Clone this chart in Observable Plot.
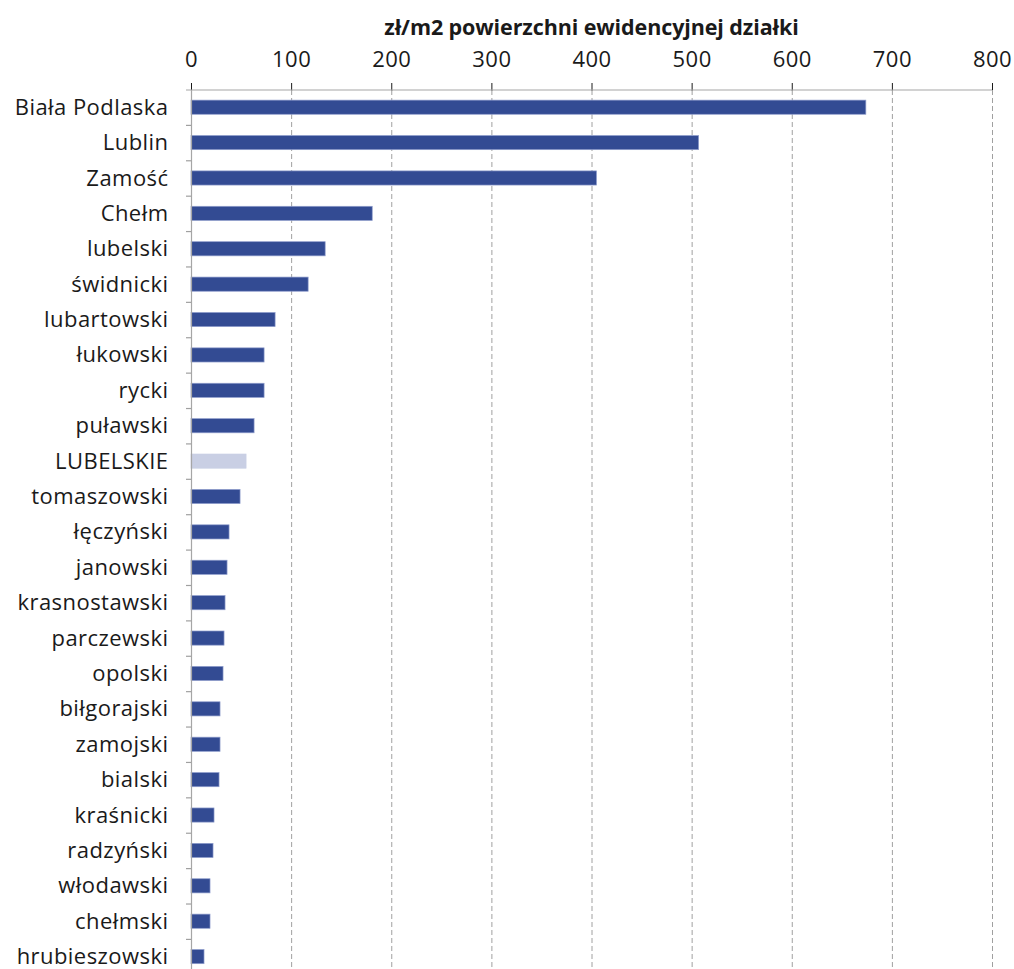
<!DOCTYPE html>
<html>
<head>
<meta charset="utf-8">
<script src="https://cdn.jsdelivr.net/npm/d3@7"></script>
<script src="https://cdn.jsdelivr.net/npm/@observablehq/plot@0.6"></script>
<style>
  body { margin: 0; background: #fff; font-family: "Open Sans", sans-serif; overflow: hidden; }
  #title { position: relative; left: 191px; width: 801px; height: 35px; line-height: 54px; text-align: center; font-weight: bold; font-size: 21.5px; color: #1a1a1a; letter-spacing: -0.1px; white-space: nowrap; }
  #chart svg { display: block; }
  #chart svg text { letter-spacing: 0.45px; }
</style>
</head>
<body>
<div id="title">zł/m2 powierzchni ewidencyjnej działki</div>
<div id="chart"></div>
<script>
const categories = ["Biała Podlaska","Lublin","Zamość","Chełm","lubelski","świdnicki","lubartowski","łukowski","rycki","puławski","LUBELSKIE","tomaszowski","łęczyński","janowski","krasnostawski","parczewski","opolski","biłgorajski","zamojski","bialski","kraśnicki","radzyński","włodawski","chełmski","hrubieszowski"];
const values = [674, 507, 405, 181, 134, 117, 84, 73, 73, 63, 55, 49, 38, 36, 34, 33, 32, 29, 29, 28, 23, 22, 19, 19, 13];
const highlight = "LUBELSKIE";
const xTicks = [0, 100, 200, 300, 400, 500, 600, 700, 800];

const data = categories.map((c, i) => ({name: c, value: values[i]}));
const y0 = 54.5, y1 = 939.3;
const step = (y1 - y0) / categories.length;

const chart = Plot.plot({
  width: 1014,
  height: 934,
  marginTop: 55,
  marginLeft: 191,
  marginRight: 22,
  marginBottom: 0,
  style: {fontFamily: "'Open Sans', sans-serif", fontSize: "22px", color: "#1a1a1a", background: "#fff"},
  x: {domain: [0, 800], axis: "top", ticks: xTicks, tickSize: 8, tickPadding: 16, label: null, tickFormat: d => String(d)},
  y: {domain: categories, range: [y0, y1], round: false, paddingInner: 0.6, paddingOuter: 0.3, axis: "left", tickSize: 0, tickPadding: 23, label: null},
  marks: [
    Plot.ruleX(xTicks.slice(1), {stroke: "#a0a0a0", strokeDasharray: "5,3", strokeWidth: 1}),
    Plot.barX(data, {y: "name", x: "value", fill: d => d.name === highlight ? "#c9cfe4" : "#334b93", stroke: d => d.name === highlight ? "#c9cfe4" : "#8f9dcc", strokeWidth: 0.7}),
    Plot.ruleY(categories.slice(0, 1), {y: d => d, x1: -5, x2: 800, dy: -step / 2, stroke: "#a6a6a6", strokeWidth: 1.2}),
    Plot.ruleY(categories, {y: d => d, x1: -5, x2: 0, dy: step / 2, stroke: "#a0a0a0", strokeWidth: 1.2}),
    Plot.ruleX([0], {stroke: "#a6a6a6", strokeWidth: 1.2})
  ]
});
document.getElementById("chart").appendChild(chart);
</script>
</body>
</html>
